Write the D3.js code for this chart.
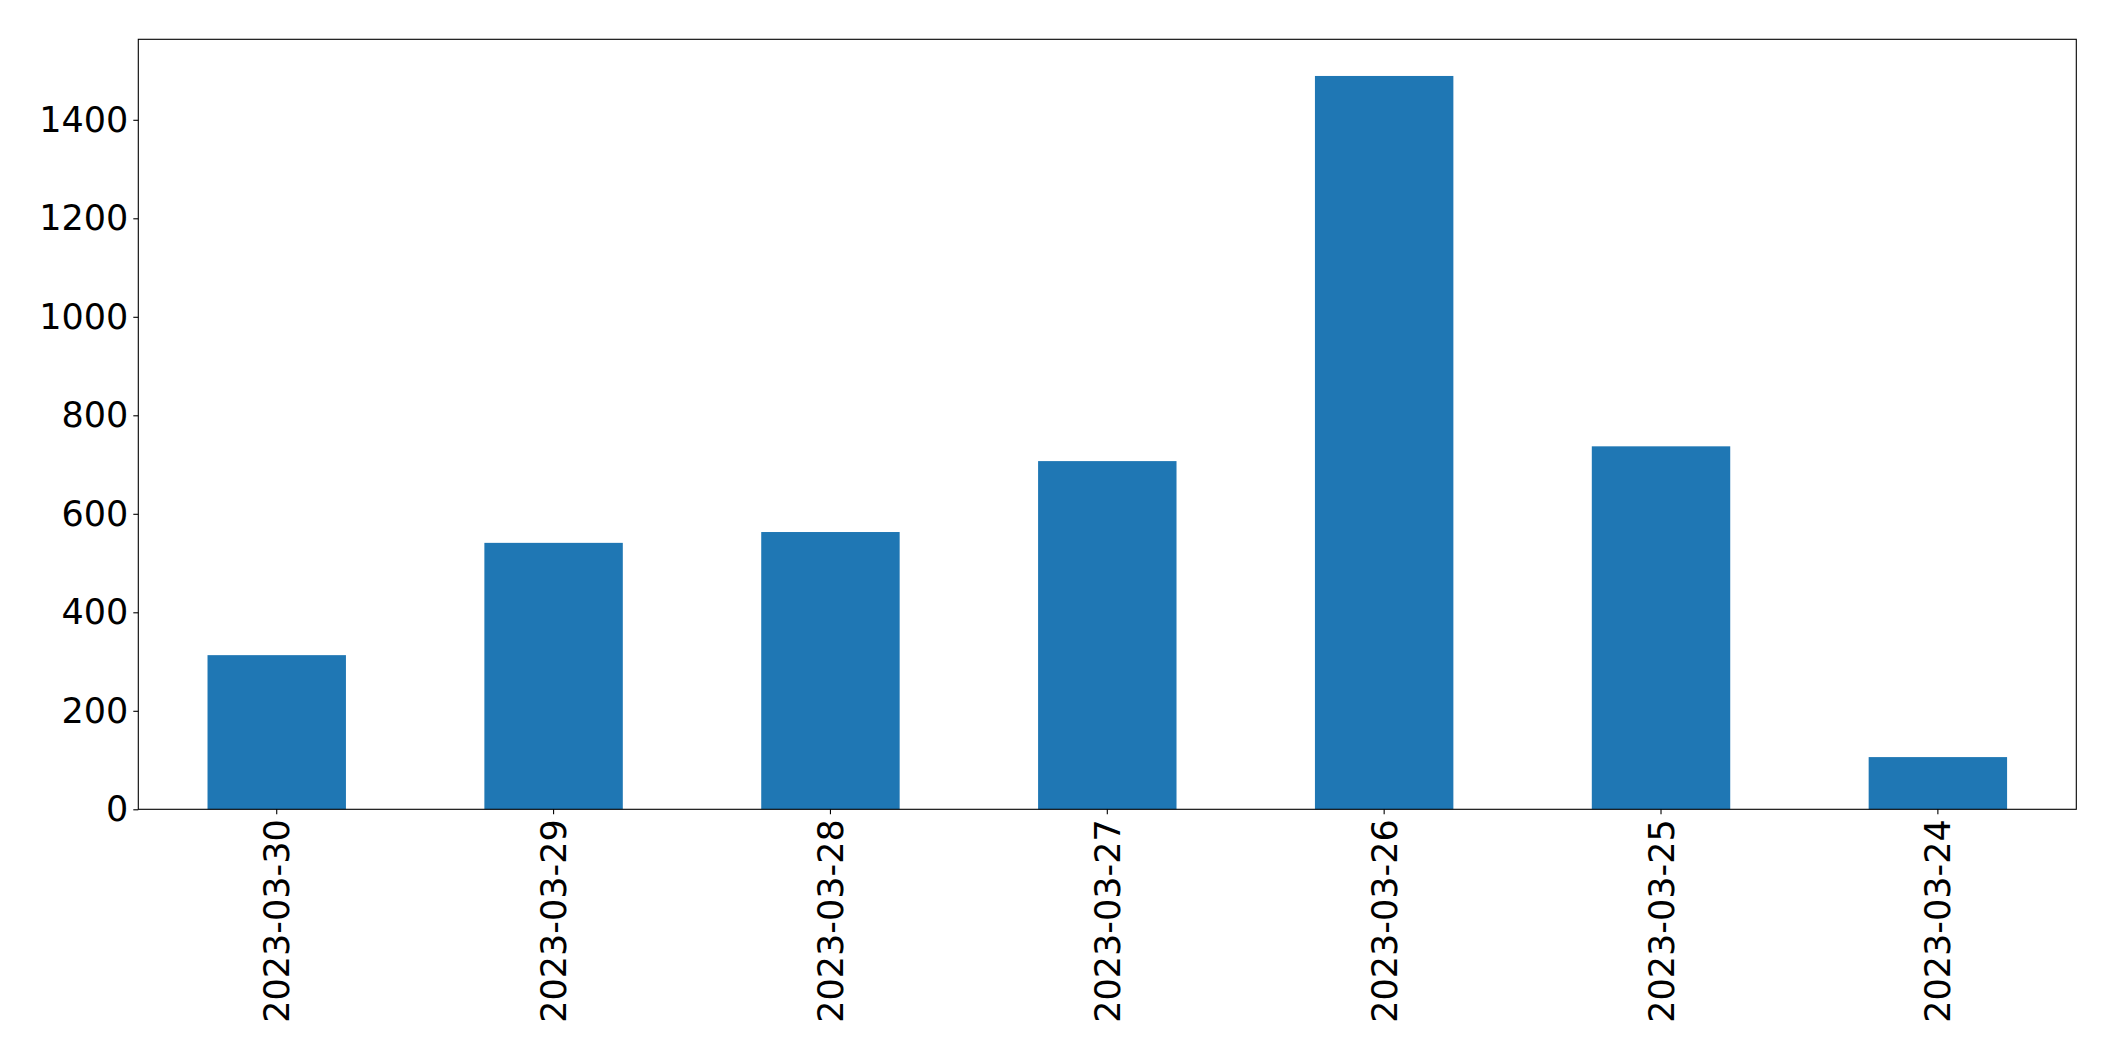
<!DOCTYPE html>
<html>
<head>
<meta charset="utf-8">
<script src="https://cdn.jsdelivr.net/npm/d3@7"></script>
<style>
  html, body { margin: 0; padding: 0; background: #fff; }
  svg { display: block; }
  text { font-family: "DejaVu Sans", sans-serif; fill: #000; }
</style>
</head>
<body>
<svg id="chart" width="2115" height="1061"></svg>
<script>
const categories = ["2023-03-30", "2023-03-29", "2023-03-28", "2023-03-27", "2023-03-26", "2023-03-25", "2023-03-24"];
const values = [313, 541, 563, 707, 1489, 737, 106];
const yTicks = [0, 200, 400, 600, 800, 1000, 1200, 1400];

const W = 2115, H = 1061;
const margin = { left: 138.3, right: W - 2076.3, top: 39.3, bottom: H - 809.3 };
const svg = d3.select("#chart");

const x = d3.scaleBand()
  .domain(categories)
  .range([margin.left, W - margin.right])
  .paddingInner(0.5)
  .paddingOuter(0.25);

const y = d3.scaleLinear()
  .domain([0, d3.max(values) * 1.05])
  .range([H - margin.bottom, margin.top]);

// bars
svg.append("g")
  .selectAll("rect")
  .data(categories.map((c, i) => ({ c, v: values[i] })))
  .join("rect")
  .attr("x", d => x(d.c))
  .attr("width", x.bandwidth())
  .attr("y", d => y(d.v))
  .attr("height", d => y(0) - y(d.v))
  .attr("fill", "#1f77b4");

// y axis
const yAxis = svg.append("g")
  .attr("transform", `translate(${margin.left},0)`)
  .call(d3.axisLeft(y).tickValues(yTicks).tickFormat(d3.format("d")).tickSizeOuter(0).tickSize(5).tickPadding(5));
yAxis.select(".domain").remove();
yAxis.selectAll("line").attr("stroke", "#000").attr("stroke-width", 1.1);
yAxis.selectAll("text").attr("font-size", 35).attr("font-family", "DejaVu Sans").attr("fill", "#000");

// x axis
const xAxis = svg.append("g")
  .attr("transform", `translate(0,${H - margin.bottom})`)
  .call(d3.axisBottom(x).tickSizeOuter(0).tickSize(5).tickPadding(0));
xAxis.select(".domain").remove();
xAxis.selectAll("line").attr("stroke", "#000").attr("stroke-width", 1.1);
xAxis.selectAll("text")
  .attr("font-size", 35)
  .attr("font-family", "DejaVu Sans")
  .attr("fill", "#000")
  .attr("text-anchor", "end")
  .attr("transform", "translate(0,10) rotate(-90)")
  .attr("x", 0)
  .attr("y", 0)
  .attr("dy", "0.36em");

// frame
svg.append("rect")
  .attr("x", margin.left)
  .attr("y", margin.top)
  .attr("width", W - margin.left - margin.right)
  .attr("height", H - margin.top - margin.bottom)
  .attr("fill", "none")
  .attr("stroke", "#000")
  .attr("stroke-width", 1.1);
</script>
</body>
</html>
